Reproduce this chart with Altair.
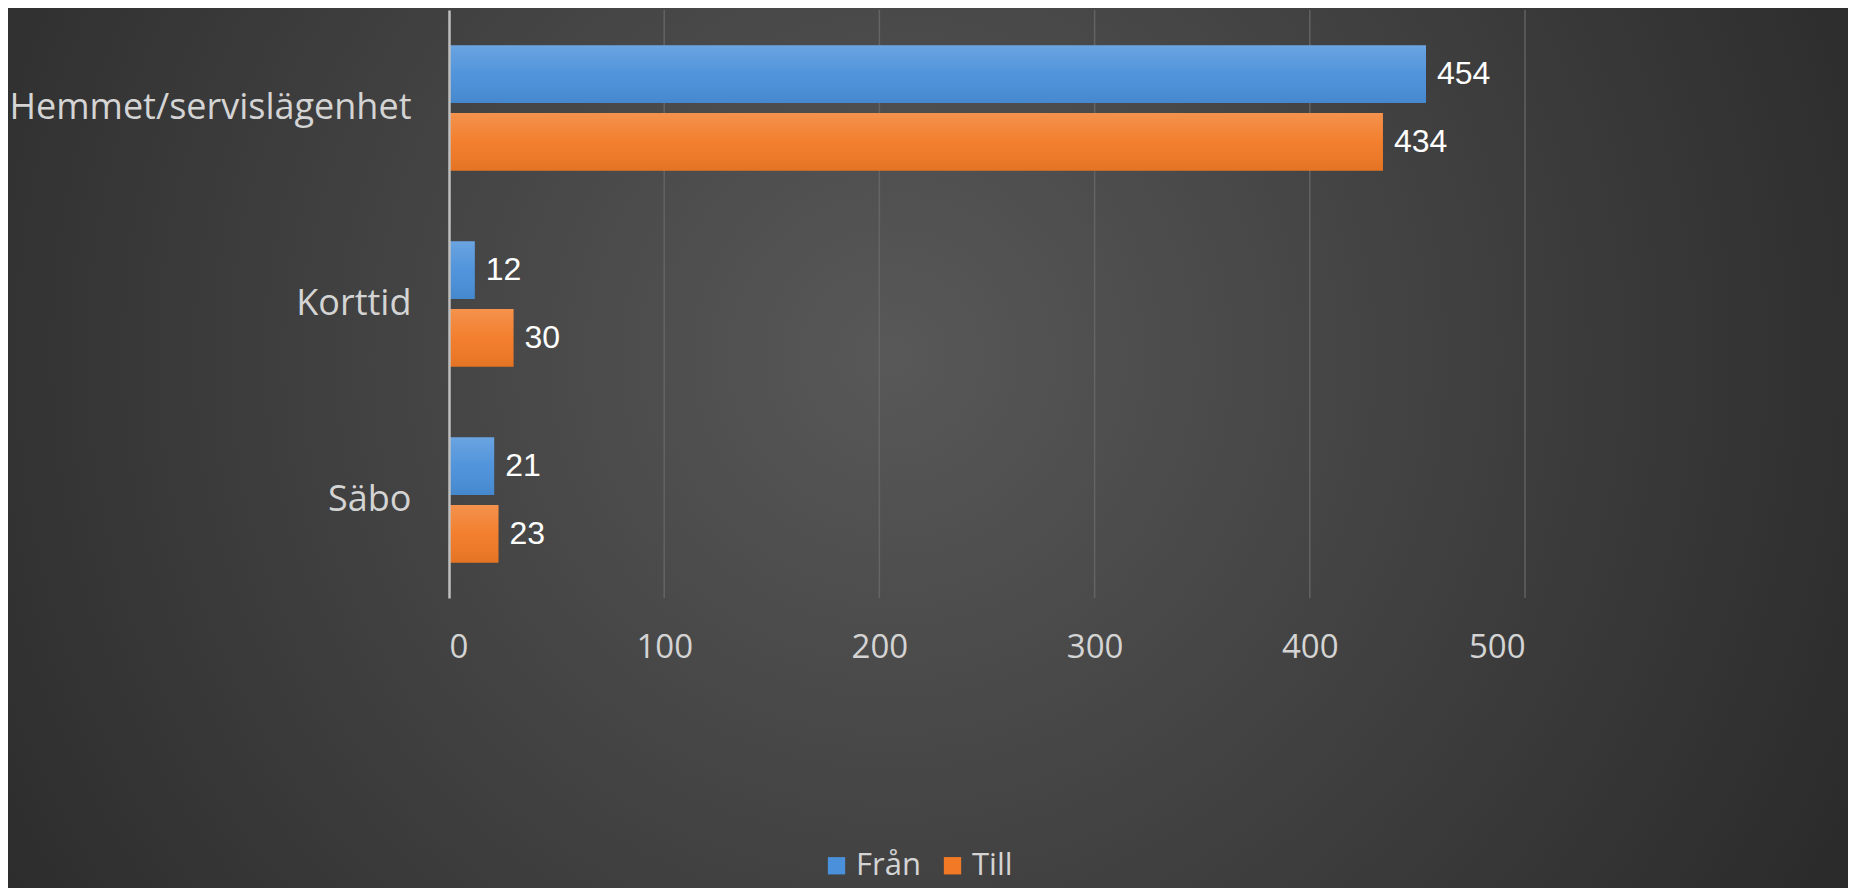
import altair as alt
import pandas as pd

categories = ["Hemmet/servislägenhet", "Korttid", "Säbo"]
series = ["Från", "Till"]
fran_values = [454, 12, 21]
till_values = [434, 30, 23]
grid_ticks = [100, 200, 300, 400, 500]

rows = []
for c, f, t in zip(categories, fran_values, till_values):
    rows.append({"kategori": c, "serie": "Från", "antal": f})
    rows.append({"kategori": c, "serie": "Till", "antal": t})
df = pd.DataFrame(rows)

W, H = 1076, 588
PL, PT = 441, 2
TOTW, TOTH = 1840, 880

xscale = alt.Scale(domain=[0, 500], nice=False)
yscale = alt.Scale(domain=categories, paddingInner=0.36, paddingOuter=0.18)
offscale = alt.Scale(domain=series, paddingInner=0.147, paddingOuter=0)
colscale = alt.Scale(domain=series, range=["#4a90da", "#f27a26"])

bg = alt.Chart(alt.Data(values=[{}])).mark_rect(
    color=alt.RadialGradient(
        gradient="radial", x1=0.48, y1=0.45, r1=0, x2=0.48, y2=0.45, r2=0.62,
        stops=[alt.GradientStop(offset=0, color="#585858"),
               alt.GradientStop(offset=1, color="#282828")]
    )
).encode(
    x=alt.value(-PL), x2=alt.value(TOTW - PL),
    y=alt.value(-PT), y2=alt.value(TOTH - PT)
)

grid = alt.Chart(pd.DataFrame({"t": grid_ticks})).mark_rule(
    color="#6a6a6a", strokeWidth=1.5, opacity=0.8
).encode(x=alt.X("t:Q", scale=xscale), y=alt.value(0), y2=alt.value(H))

base = alt.Chart(df)

bars = base.mark_bar().encode(
    x=alt.X("antal:Q", scale=xscale,
            axis=alt.Axis(values=[0, 100, 200, 300, 400, 500], grid=False, domain=False,
                          ticks=False, labelFont="Open Sans", labelFontSize=33,
                          labelColor="#d4d4d4", labelPadding=33, title=None, zindex=1)),
    y=alt.Y("kategori:N", scale=yscale, sort=categories,
            axis=alt.Axis(title=None, ticks=False, domain=True, domainColor="#bfbfbf",
                          domainWidth=2.5, labelFont="Open Sans", labelFontSize=36,
                          labelColor="#d4d4d4", labelPadding=38, labelLimit=0, zindex=1)),
    yOffset=alt.YOffset("serie:N", scale=offscale, sort=series),
    color=alt.Color("serie:N", scale=colscale, sort=series,
                    legend=alt.Legend(title=None, orient="none", legendX=372, legendY=840,
                                      direction="horizontal", symbolType="square",
                                      symbolSize=300, symbolStrokeWidth=0,
                                      labelFont="Open Sans", labelFontSize=31,
                                      labelColor="#d4d4d4", columnPadding=16,
                                      labelOffset=4)),
)

sheen = base.mark_bar(
    color=alt.LinearGradient(
        gradient="linear", x1=0, y1=0, x2=0, y2=1,
        stops=[alt.GradientStop(offset=0, color="rgba(255,255,255,0.18)"),
               alt.GradientStop(offset=0.5, color="rgba(255,255,255,0.04)"),
               alt.GradientStop(offset=1, color="rgba(0,0,0,0.06)")]
    )
).encode(
    x=alt.X("antal:Q", scale=xscale),
    y=alt.Y("kategori:N", scale=yscale, sort=categories),
    yOffset=alt.YOffset("serie:N", scale=offscale, sort=series),
)

labels = base.mark_text(align="left", baseline="middle", dx=11, font="Liberation Sans",
                        fontSize=32, color="#ffffff").encode(
    x=alt.X("antal:Q", scale=xscale),
    y=alt.Y("kategori:N", scale=yscale, sort=categories),
    yOffset=alt.YOffset("serie:N", scale=offscale, sort=series),
    text="antal:Q",
)

chart = alt.layer(bg, grid, bars, sheen, labels).properties(
    width=W, height=H,
    padding={"left": PL, "top": PT, "right": TOTW - PL - W, "bottom": TOTH - PT - H},
    autosize=alt.AutoSizeParams(type="none"),
    background="#333333",
).configure_view(stroke=None)

chart.save("out.html", embed_options={"renderer": "svg", "actions": False})
